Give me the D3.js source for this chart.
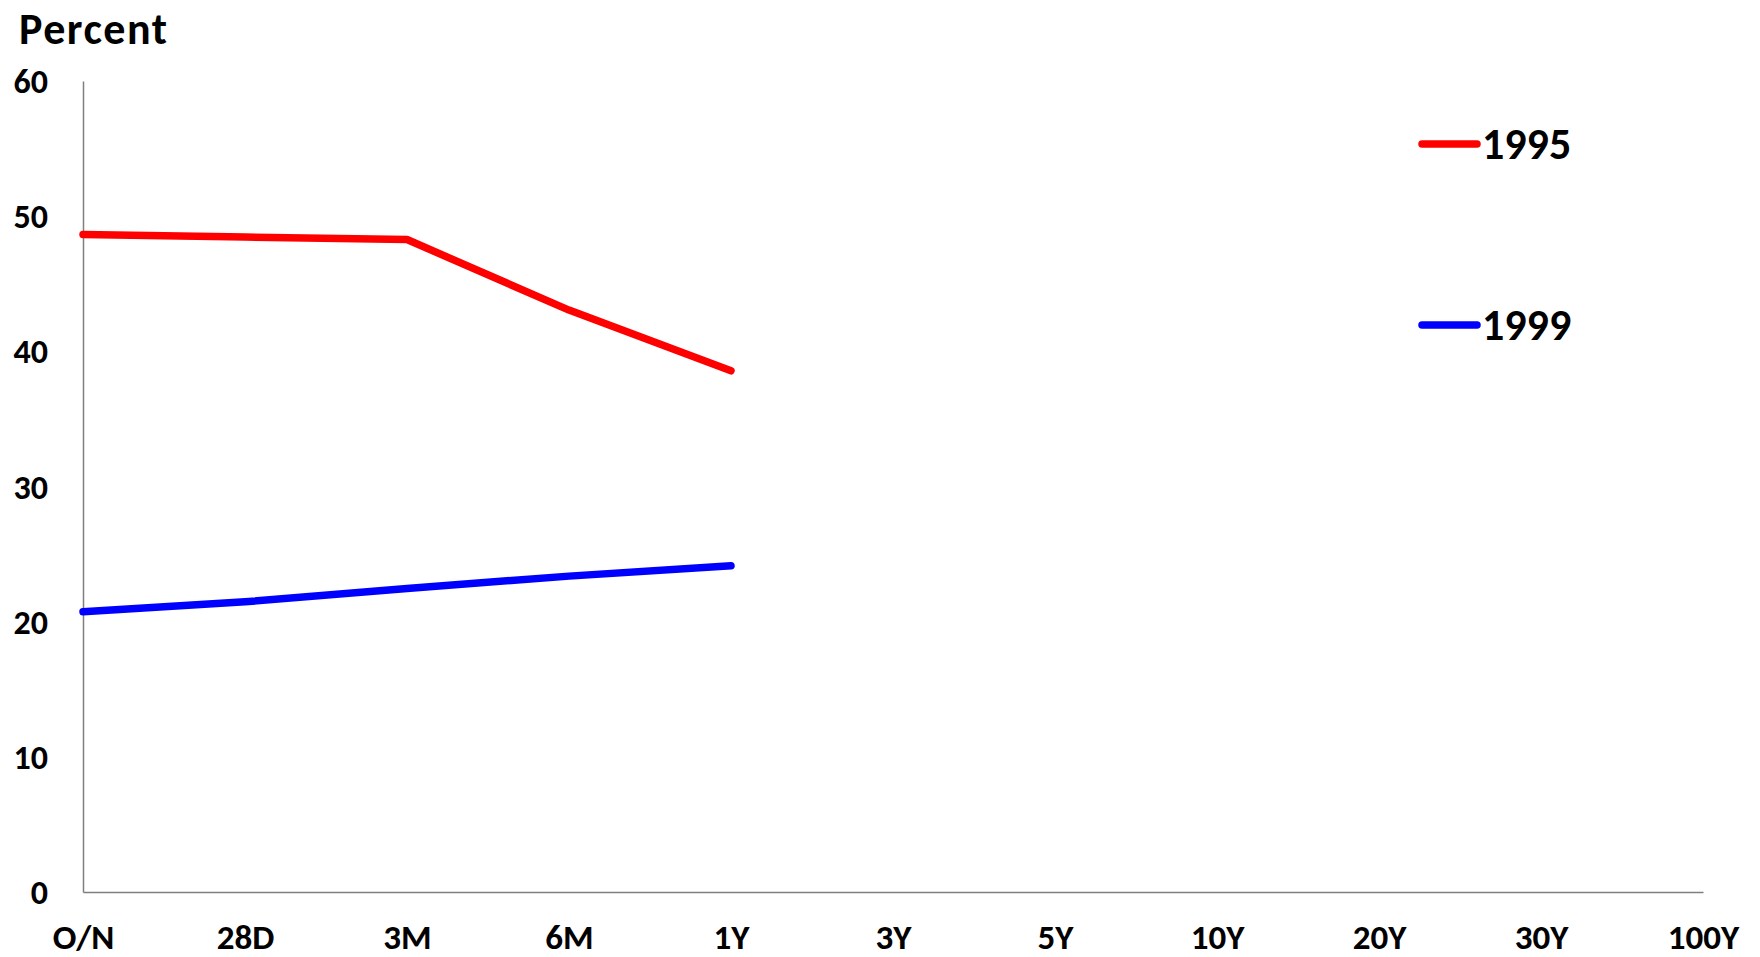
<!DOCTYPE html>
<html>
<head>
<meta charset="utf-8">
<script src="https://cdn.jsdelivr.net/npm/d3@7"></script>
<style>
  html, body { margin: 0; padding: 0; background: #fff; }
  svg text { font-family: Carlito, "Liberation Sans Narrow", "Open Sans", sans-serif; font-weight: bold; fill: #000; }
</style>
</head>
<body>
<svg id="chart" width="1760" height="957"></svg>
<script>
// Maturity buckets along the curve
const tenors = ["O/N", "28D", "3M", "6M", "1Y", "3Y", "5Y", "10Y", "20Y", "30Y", "100Y"];
// Yields (percent) for each year; only the money-market end is quoted
const yields1995 = [48.65, 48.45, 48.27, 43.05, 38.56];
const yields1999 = [20.73, 21.47, 22.46, 23.37, 24.13];
const seriesNames = ["1995", "1999"];
const seriesColors = ["#ff0000", "#0000ff"];
const yTicks = [0, 10, 20, 30, 40, 50, 60];

const svg = d3.select("#chart");
const plot = { left: 83, right: 1703, top: 81, bottom: 892 };

const x = d3.scalePoint().domain(tenors).range([plot.left, plot.right]).padding(0);
const y = d3.scaleLinear().domain([0, 60]).range([plot.bottom, plot.top]);

// Axes: plain grey lines, no tick marks
const yAxis = svg.append("g")
  .attr("transform", `translate(${plot.left},0)`)
  .call(d3.axisLeft(y).tickValues(yTicks).tickSize(0).tickPadding(35));
const xAxis = svg.append("g")
  .attr("transform", `translate(0,${plot.bottom})`)
  .call(d3.axisBottom(x).tickSize(0).tickPadding(32));

[yAxis, xAxis].forEach(g => {
  g.select(".domain").attr("stroke", "#7f7f7f").attr("stroke-width", 1.5);
  g.selectAll("text").style("font-size", "34px");
});
xAxis.selectAll("text").style("font-size", "35px");
yAxis.selectAll("text").attr("dy", "0.34em");

svg.append("text")
  .attr("x", 19).attr("y", 44)
  .style("font-size", "44px")
  .style("letter-spacing", "1.5px")
  .text("Percent");

const line = d3.line()
  .x((d, i) => x(tenors[i]))
  .y(d => y(d));

[yields1995, yields1999].forEach((vals, k) => {
  svg.append("path")
    .datum(vals)
    .attr("fill", "none")
    .attr("stroke", seriesColors[k])
    .attr("stroke-width", 7.5)
    .attr("stroke-linecap", "round")
    .attr("stroke-linejoin", "round")
    .attr("d", line);
});

// Legend
const legendY = [144, 325];
seriesNames.forEach((name, k) => {
  const g = svg.append("g").attr("transform", `translate(1422,${legendY[k]})`);
  g.append("line")
    .attr("x1", 0).attr("x2", 55)
    .attr("stroke", seriesColors[k]).attr("stroke-width", 7.5)
    .attr("stroke-linecap", "round");
  g.append("text")
    .attr("x", 60).attr("y", 0).attr("dy", "0.35em")
    .style("font-size", "44px")
    .text(name);
});
</script>
</body>
</html>
